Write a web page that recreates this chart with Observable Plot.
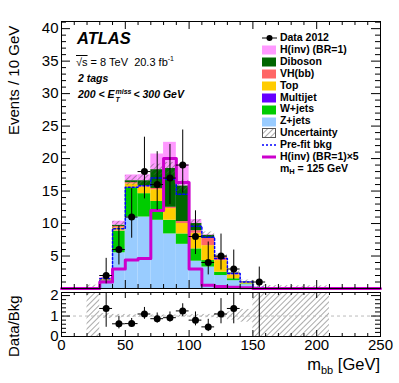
<!DOCTYPE html>
<html><head><meta charset="utf-8">
<script src="https://cdn.jsdelivr.net/npm/d3@7"></script>
<script src="https://cdn.jsdelivr.net/npm/@observablehq/plot@0.6"></script>
<style>
body{margin:0;background:#fff;font-family:"Liberation Sans",Arial,Helvetica,sans-serif;}
#wrap{position:relative;width:399px;height:383px;overflow:hidden;}
.abs{position:absolute;white-space:nowrap;}
.leg{position:absolute;left:262px;font-weight:bold;font-size:10.5px;line-height:12px;white-space:nowrap;}
.leg svg{vertical-align:middle;}
</style></head><body>
<svg width="0" height="0" style="position:absolute">
<defs>
<pattern id="hatch" patternUnits="userSpaceOnUse" width="4" height="4" patternTransform="rotate(45)">
<line x1="0" y1="0" x2="0" y2="4" stroke="#555" stroke-width="1"/>
</pattern>
</defs></svg>
<div id="wrap"></div>
<script>
// ---- data (bins of 10 GeV, low edges 0..240) ----
const binLow   = [0,10,20,30,40,50,60,70,80,90,100,110,120,130,140,150,160,170,180,190,200,210,220,230,240];
const zjets    = [0,0,0.05,0.8,5.5,11.0,11.0,10.5,8.4,6.8,4.2,3.3,2.0,1.2,0.6,0.1,0.05,0.03,0.02,0.02,0.01,0,0,0,0];
const wjets    = [0,0,0.02,0.35,3.3,4.5,3.6,2.9,2.1,1.6,1.9,1.0,0.5,0.3,0.1,0.02,0,0,0,0,0,0,0,0,0];
const multijet = [0,0,0,0.05,0.05,0,0,0,0,0,0,0,0,0,0,0,0,0,0,0,0,0,0,0,0];
const topq     = [0,0,0,0.2,0.5,0.6,1.0,1.8,1.8,1.6,2.4,2.3,1.8,0.6,0.2,0.03,0,0,0,0,0,0,0,0,0];
const vhbb     = [0,0,0,0.05,0.2,0.2,0.2,0.2,0.2,0.3,0.4,1.1,0.5,0.2,0.1,0,0,0,0,0,0,0,0,0,0];
const diboson  = [0,0,0,0.05,0.2,0.3,0.8,2.9,6.0,5.5,1.1,0.5,0.1,0.1,0.05,0,0,0,0,0,0,0,0,0,0];
const hinv     = [0,0,0,0.2,0.6,0.88,0.92,2.4,4.0,3.26,0.6,0.1,0.06,0.04,0.02,0,0,0,0,0,0,0,0,0,0];
const bkgUnc   = [0,0,0.45,0.3,0.6,0.75,0.8,0.85,0.9,0.85,0.6,0.5,0.4,0.3,0.25,0.4,0.4,0.4,0.4,0.4,0.4,0,0,0,0];
const prefit   = [0,0,0.05,1.5,9.2,15.6,15.8,17.0,16.8,14.5,9.6,7.9,4.6,2.3,1.0,0.15,0.05,0.03,0.02,0.02,0.01,0,0,0,0];
const hinvX5   = [0,0,0,1.0,3.0,4.4,4.6,12.0,20.0,16.3,3.0,0.5,0.3,0.2,0.1,0,0,0,0,0,0,0,0,0,0];

const dataX    = [35,45,55,65,75,85,95,105,115,125,135,155];
const dataY    = [2,6,11,18,16,17,19,8,4,5,3,1];
const dataErrLo= [1.29,2.38,3.26,4.21,3.96,4.08,4.32,2.77,1.91,2.16,1.63,0.83];
const dataErrHi= [2.64,3.62,4.36,5.29,5.06,5.18,5.40,3.96,3.16,3.38,2.92,2.30];

const ratioX    = [35,45,55,65,75,85,95,105,115,125,135];
const ratioY    = [1.37,0.62,0.63,1.10,0.87,0.92,1.25,0.80,0.47,1.10,1.37];
const ratioErrLo= [0.92,0.25,0.19,0.26,0.22,0.22,0.28,0.28,0.23,0.48,0.75];
const ratioErrHi= [1.80,0.37,0.25,0.32,0.28,0.28,0.35,0.40,0.37,0.75,1.35];
const ratioOffX = [155];  // point above range, only error bar visible
const bandLo    = [null,null,0,0.88,0.92,0.94,0.94,0.95,0.95,0.94,0.93,0.92,0.88,0.80,0.70,0,0,0,0,0,0,null,null,null,null];
const bandHi    = [null,null,2.15,1.12,1.08,1.06,1.06,1.05,1.05,1.06,1.07,1.08,1.12,1.20,1.32,2.15,2.15,2.15,2.15,2.15,2.15,null,null,null,null];

const comps  = ["Z+jets","W+jets","Multijet","Top","VH(bb)","Diboson","H(inv) (BR=1)"];
const series = [zjets,wjets,multijet,topq,vhbb,diboson,hinv];
const colors = ["#99ccff","#00cc00","#6600ff","#ffcc00","#ff6666","#006600","#ff99ff"];

const xMajor = [0,50,100,150,200,250];
const xMinor = [10,20,30,40,60,70,80,90,110,120,130,140,160,170,180,190,210,220,230,240];
const yMajor = [5,10,15,20,25,30,35,40];
const yMinor = [1,2,3,4,6,7,8,9,11,12,13,14,16,17,18,19,21,22,23,24,26,27,28,29,31,32,33,34,36,37,38,39,41];
const rMajor = [0,1,2];
const rMinor = [0.2,0.4,0.6,0.8,1.2,1.4,1.6,1.8];

const BW = 10;
// ---- derived tables ----
const stackRows = [];
binLow.forEach((x, i) => {
  let c = 0;
  series.forEach((s, k) => {
    if (s[i] > 0) stackRows.push({x1: x, x2: x + BW, y1: c, y2: c + s[i], comp: comps[k]});
    c += s[i];
  });
});
const bkgTot = binLow.map((x, i) => zjets[i]+wjets[i]+multijet[i]+topq[i]+vhbb[i]+diboson[i]);
const bandRows = binLow.map((x, i) => ({x1: x, x2: x + BW, y1: Math.max(0, bkgTot[i]-bkgUnc[i]), y2: bkgTot[i]+bkgUnc[i], u: bkgUnc[i]})).filter(d => d.u > 0);
const stepPts = arr => binLow.map((x,i)=>({x, y: arr[i]})).concat([{x: 250, y: arr[arr.length-1]}]);
const dataRows = dataX.map((x,i)=>({x, y: dataY[i], lo: dataY[i]-dataErrLo[i], hi: dataY[i]+dataErrHi[i]}));
const ratioRows = ratioX.map((x,i)=>({x, y: ratioY[i], lo: ratioY[i]-ratioErrLo[i], hi: ratioY[i]+ratioErrHi[i]}));
const rBandRows = binLow.map((x,i)=>({x1:x, x2:x+BW, y1: bandLo[i], y2: bandHi[i]})).filter(d=>d.y1!==null);

const FONT = "'Liberation Sans', Arial, Helvetica, sans-serif";
const wrap = document.getElementById("wrap");

// ---- main panel ----
const MH = 295, MT = 21, MB = 7, PH = MH - MT - MB;
const main = Plot.plot({
  width: 399, height: MH, marginLeft: 61, marginRight: 19, marginTop: MT, marginBottom: MB,
  x: {domain: [0, 250], axis: null},
  y: {domain: [0, 41.1], axis: null},
  color: {domain: comps, range: colors},
  style: {fontFamily: FONT, fontSize: "15px", background: "transparent", overflow: "visible"},
  marks: [
    Plot.rect(stackRows, {x1: "x1", x2: "x2", y1: "y1", y2: "y2", fill: "comp"}),
    Plot.rect(bandRows, {x1: "x1", x2: "x2", y1: "y1", y2: "y2", fill: "url(#hatch)"}),
    Plot.line(stepPts(prefit), {x: "x", y: "y", curve: "step-after", stroke: "#0000ff", strokeWidth: 1.5, strokeDasharray: "2,2"}),
    Plot.line(stepPts(hinvX5), {x: "x", y: "y", curve: "step-after", stroke: "#cc00cc", strokeWidth: 3}),
    Plot.ruleX(dataRows, {x: "x", y1: "lo", y2: "hi", stroke: "#000", strokeWidth: 1}),
    Plot.ruleY(dataRows, {y: "y", x1: d => d.x - BW/2, x2: d => d.x + BW/2, stroke: "#000", strokeWidth: 1}),
    Plot.dot(dataRows, {x: "x", y: "y", r: 3.5, fill: "#000", stroke: "none"}),
    Plot.tickX(xMajor, {x: d => d, insetTop: PH - 8, stroke: "#000"}),
    Plot.tickX(xMinor, {x: d => d, insetTop: PH - 4, stroke: "#000"}),
    Plot.tickX(xMajor, {x: d => d, insetBottom: PH - 8, stroke: "#000"}),
    Plot.tickX(xMinor, {x: d => d, insetBottom: PH - 4, stroke: "#000"}),
    Plot.tickY(yMajor, {y: d => d, insetRight: 319 - 9, stroke: "#000"}),
    Plot.tickY(yMinor, {y: d => d, insetRight: 319 - 5, stroke: "#000"}),
    Plot.tickY(yMajor, {y: d => d, insetLeft: 319 - 9, stroke: "#000"}),
    Plot.tickY(yMinor, {y: d => d, insetLeft: 319 - 5, stroke: "#000"}),
    Plot.frame({stroke: "#000", strokeWidth: 1}),
    Plot.axisY(yMajor, {tickSize: 0, tickPadding: 3, fontSize: 15, fill: "#000"})
  ]
});
main.style.position = "absolute"; main.style.left = "0px"; main.style.top = "0px";
wrap.appendChild(main);

// ---- ratio panel ----
const RH = 98, RT = 7, RB = 47, RPH = RH - RT - RB;
const ratio = Plot.plot({
  width: 399, height: RH, marginLeft: 61, marginRight: 19, marginTop: RT, marginBottom: RB,
  x: {domain: [0, 250], axis: null},
  y: {domain: [0, 2.15], axis: null},
  style: {fontFamily: FONT, fontSize: "15px", background: "transparent", overflow: "visible"},
  marks: [
    Plot.rect(rBandRows, {x1: "x1", x2: "x2", y1: "y1", y2: "y2", fill: "url(#hatch)"}),
    Plot.ruleY([1], {stroke: "#bbb", strokeDasharray: "3,3", strokeWidth: 1}),
    Plot.ruleX(ratioRows, {x: "x", y1: "lo", y2: "hi", stroke: "#000", clip: true}),
    Plot.ruleY(ratioRows, {y: "y", x1: d => d.x - BW/2, x2: d => d.x + BW/2, stroke: "#000"}),
    Plot.ruleX(ratioOffX, {x: d => d, y1: 0, y2: 2.15, stroke: "#000"}),
    Plot.dot(ratioRows, {x: "x", y: "y", r: 3.5, fill: "#000", stroke: "none"}),
    Plot.tickX(xMajor, {x: d => d, insetTop: RPH - 6, stroke: "#000"}),
    Plot.tickX(xMinor, {x: d => d, insetTop: RPH - 3, stroke: "#000"}),
    Plot.tickX(xMajor, {x: d => d, insetBottom: RPH - 6, stroke: "#000"}),
    Plot.tickX(xMinor, {x: d => d, insetBottom: RPH - 3, stroke: "#000"}),
    Plot.tickY(rMajor, {y: d => d, insetRight: 319 - 9, stroke: "#000"}),
    Plot.tickY(rMinor, {y: d => d, insetRight: 319 - 5, stroke: "#000"}),
    Plot.tickY(rMajor, {y: d => d, insetLeft: 319 - 9, stroke: "#000"}),
    Plot.tickY(rMinor, {y: d => d, insetLeft: 319 - 5, stroke: "#000"}),
    Plot.frame({stroke: "#000"}),
    Plot.axisY(rMajor, {tickSize: 0, tickPadding: 3, fontSize: 15, fill: "#000"}),
    Plot.axisX(xMajor, {tickSize: 0, tickPadding: 3, fontSize: 15, fill: "#000"})
  ]
});
ratio.style.position = "absolute"; ratio.style.left = "0px"; ratio.style.top = "285px";
wrap.appendChild(ratio);

// ---- text annotations ----
function addText(html, css) {
  const d = document.createElement("div");
  d.className = "abs"; d.innerHTML = html; Object.assign(d.style, css);
  wrap.appendChild(d); return d;
}
addText("Events / 10 GeV", {fontSize: "15px", left: "14px", top: "23px", transformOrigin: "0 0", transform: "rotate(-90deg) translate(-112px,-9px)"});
addText("Data/Bkg", {fontSize: "15px", left: "14px", top: "293px", transformOrigin: "0 0", transform: "rotate(-90deg) translate(-64px,-9px)"});
addText("m<sub style='font-size:11px;vertical-align:-4px'>bb</sub> [GeV]", {fontSize: "16.5px", right: "19px", top: "355px"});
addText("ATLAS", {fontSize: "16.5px", fontWeight: "bold", fontStyle: "italic", left: "77px", top: "29px"});
addText("<span style='text-decoration:overline'>&radic;s</span> = 8 TeV&nbsp; 20.3 fb<sup style='font-size:7px;vertical-align:5px'>-1</sup>", {fontSize: "11px", left: "76px", top: "55px"});
addText("2 tags", {fontSize: "10.5px", fontWeight: "bold", fontStyle: "italic", left: "78px", top: "72px"});
addText("200 &lt; E<span style='display:inline-block;vertical-align:-4px;line-height:8px;font-size:7px;text-align:left;margin:0 2px 0 1px'>miss<br>T</span>&lt; 300 GeV", {fontSize: "10.5px", fontWeight: "bold", fontStyle: "italic", left: "78px", top: "88px"});

// ---- legend ----
const legendItems = [
  {label: "Data 2012", kind: "data"},
  {label: "H(inv) (BR=1)", kind: "box", color: "#ff99ff"},
  {label: "Diboson", kind: "box", color: "#006600"},
  {label: "VH(bb)", kind: "box", color: "#ff6666"},
  {label: "Top", kind: "box", color: "#ffcc00"},
  {label: "Multijet", kind: "box", color: "#6600ff"},
  {label: "W+jets", kind: "box", color: "#00cc00"},
  {label: "Z+jets", kind: "box", color: "#99ccff"},
  {label: "Uncertainty", kind: "hatch"},
  {label: "Pre-fit bkg", kind: "dash"},
  {label: "H(inv) (BR=1)&times;5", kind: "mag"},
  {label: "m<sub style='font-size:7.5px;vertical-align:-2px'>H</sub> = 125 GeV", kind: "none"}
];
legendItems.forEach((it, i) => {
  const d = document.createElement("div");
  d.className = "leg";
  d.style.top = (31 + i * 11.9) + "px";
  let sw = "";
  if (it.kind === "data") sw = `<svg width="15" height="10"><line x1="0" y1="5" x2="15" y2="5" stroke="#000"/><circle cx="7.5" cy="5" r="3" fill="#000"/></svg>`;
  else if (it.kind === "box") sw = `<svg width="15" height="10"><rect x="0" y="0.5" width="14" height="9" fill="${it.color}"/></svg>`;
  else if (it.kind === "hatch") sw = `<svg width="15" height="10"><rect x="0.5" y="0.5" width="13" height="9" fill="url(#hatch)" stroke="#555"/></svg>`;
  else if (it.kind === "dash") sw = `<svg width="15" height="10"><line x1="0" y1="5" x2="14" y2="5" stroke="#0000ff" stroke-width="1.5" stroke-dasharray="2,2"/></svg>`;
  else if (it.kind === "mag") sw = `<svg width="15" height="10"><line x1="0" y1="5" x2="14" y2="5" stroke="#cc00cc" stroke-width="3"/></svg>`;
  else sw = `<svg width="15" height="10"></svg>`;
  d.innerHTML = sw + " " + it.label;
  wrap.appendChild(d);
});
</script>
</body></html>
